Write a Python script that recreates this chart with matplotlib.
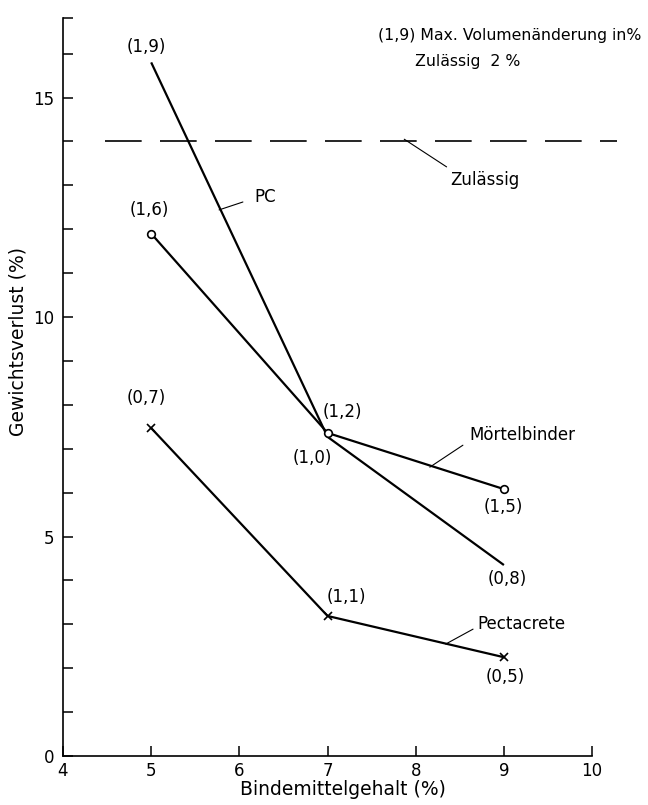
import matplotlib
matplotlib.use("Agg")
import matplotlib.pyplot as plt

# ---- data ----
binder = [5, 7, 9]
pc = [15.8, 7.27, 4.35]
moertel = [11.9, 7.36, 6.08]
pecta = [7.47, 3.19, 2.25]
pc_vol = ["(1,9)", "(1,0)", "(0,8)"]
moertel_vol = ["(1,6)", "(1,2)", "(1,5)"]
pecta_vol = ["(0,7)", "(1,1)", "(0,5)"]
zul_x = [4.48, 10.28]
zul_y = [14.0, 14.0]
xticks = [4, 5, 6, 7, 8, 9, 10]
yticks = [0, 5, 10, 15]

plt.rcParams['font.family'] = ['DejaVu Sans']
FS = 12

fig = plt.figure(figsize=(6.48, 8.05), dpi=100)
ax = fig.add_axes([63/648, 1-756/805, 582/648, 737.5/805])
ax.set_xlim(4, 10.6)
ax.set_ylim(0, 16.8)

for s in ['top', 'right']:
    ax.spines[s].set_visible(False)
ax.spines['bottom'].set_bounds(4, 10)
for s in ['left', 'bottom']:
    ax.spines[s].set_linewidth(1.2)

ax.set_xticks(xticks)
ax.set_xticklabels([str(t) for t in xticks], fontsize=FS)
ax.set_yticks(yticks)
ax.set_yticklabels([str(t) for t in yticks], fontsize=FS)
ax.set_yticks([v for v in range(1, 17) if v % 5] + [16.8], minor=True)
ax.tick_params(axis='both', which='both', direction='in', length=7, width=1.1)
ax.tick_params(axis='x', pad=4)
ax.tick_params(axis='y', pad=6)

ax.set_xlabel("Bindemittelgehalt (%)", fontsize=13.5)
ax.xaxis.set_label_coords((343-63)/582, -(780-756)/737.5)
ax.set_ylabel("Gewichtsverlust (%)", fontsize=13.5)
ax.yaxis.set_label_coords((18-63)/582, (756-342)/737.5)
ax.yaxis.label.set_va('center')

# lines
ax.plot(binder, pc, color='black', lw=1.6, solid_capstyle='butt')
ax.plot(binder, moertel, color='black', lw=1.6, marker='o', ms=5.5,
        mfc='white', mec='black', mew=1.2)
ax.plot(binder, pecta, color='black', lw=1.6, marker='x', ms=6, mew=1.2)
ax.plot(zul_x, zul_y, color='black', lw=1.2, dashes=(22, 11), clip_on=False)

# value labels (offsets in pixels)
pc_off = [(-5, 15), (-15, -21), (3, -14)]
mo_off = [(-2, 24), (15, 21), (-1, -18)]
pe_off = [(-5, 30), (19, 19), (1, -20)]
for vals, labs, offs in [(pc, pc_vol, pc_off), (moertel, moertel_vol, mo_off),
                         (pecta, pecta_vol, pe_off)]:
    for x, y, t, o in zip(binder, vals, labs, offs):
        ax.annotate(t, xy=(x, y), xytext=o, textcoords='offset pixels',
                    ha='center', va='center', fontsize=FS)

# callouts
arrow = dict(arrowstyle='-', color='black', lw=0.8, shrinkA=0, shrinkB=0)
ax.annotate('', xy=(5.77, 12.44), xytext=(6.04, 12.62), arrowprops=arrow)
ax.text(6.17, 12.73, "PC", fontsize=FS, ha='left', va='center')
ax.annotate('', xy=(7.87, 14.05), xytext=(8.35, 13.42), arrowprops=arrow)
ax.text(8.39, 13.12, "Zulässig", fontsize=FS, ha='left', va='center')
ax.annotate('', xy=(8.16, 6.58), xytext=(8.535, 7.08), arrowprops=arrow)
ax.text(8.61, 7.31, "Mörtelbinder", fontsize=FS, ha='left', va='center')
ax.annotate('', xy=(8.34, 2.55), xytext=(8.65, 2.89), arrowprops=arrow)
ax.text(8.70, 3.01, "Pectacrete", fontsize=FS, ha='left', va='center')

ax.text(7.57, 16.42, "(1,9) Max. Volumenänderung in%", fontsize=11.3,
        ha='left', va='center')
ax.text(7.99, 15.81, "Zulässig  2 %", fontsize=11.3, ha='left', va='center')

fig.savefig("out.png", dpi=100, facecolor='white')
